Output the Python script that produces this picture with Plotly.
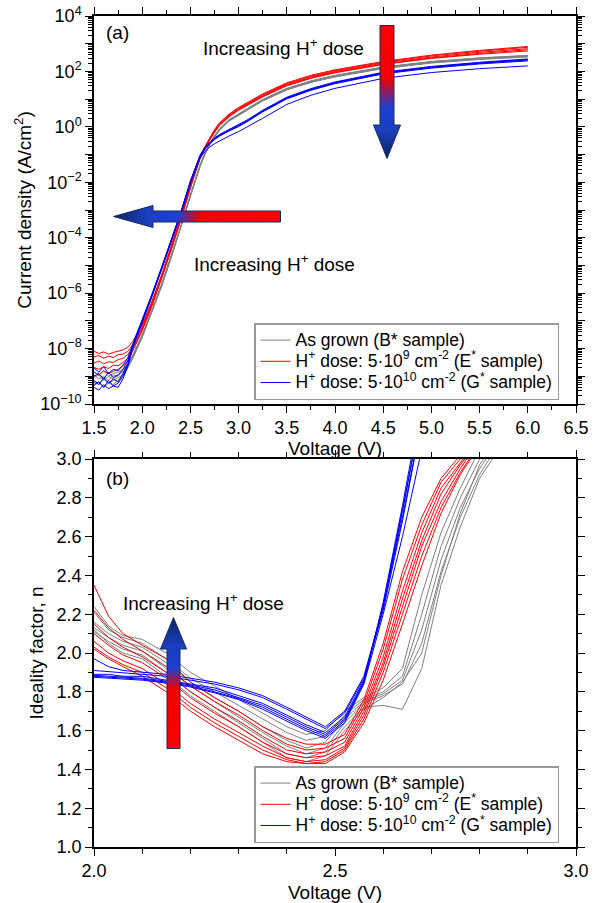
import base64
import plotly.graph_objects as go

# ---------------- data: panel (a) J-V (log10 of current density, A/cm^2) ----------------
V_TOP = [1.50, 1.55, 1.60, 1.65, 1.70, 1.75, 1.80, 1.85, 1.90, 2.00, 2.10, 2.20, 2.30, 2.40,
         2.50, 2.55, 2.60, 2.65, 2.70, 2.75, 2.80, 2.90, 3.00, 3.10, 3.25, 3.50, 3.75, 4.00,
         4.50, 5.00, 5.50, 6.00]

LOGJ_GRAY = [
    [-8.85, -8.95, -8.80, -9.00, -8.90, -8.85, -8.75, -8.55, -8.25, -7.50, -6.62, -5.68, -4.65, -3.60,
     -2.45, -1.90, -1.38, -0.95, -0.60, -0.32, -0.08, 0.26, 0.48, 0.68, 0.99, 1.39, 1.66, 1.86, 2.16, 2.36, 2.49, 2.58],
    [-9.05, -8.95, -9.15, -9.00, -9.10, -8.95, -8.85, -8.60, -8.30, -7.55, -6.66, -5.72, -4.68, -3.62,
     -2.47, -1.92, -1.40, -0.97, -0.62, -0.34, -0.10, 0.24, 0.46, 0.66, 0.97, 1.37, 1.64, 1.84, 2.14, 2.34, 2.47, 2.56],
    [-9.20, -9.30, -9.10, -9.25, -9.15, -9.05, -8.95, -8.65, -8.35, -7.58, -6.70, -5.75, -4.72, -3.65,
     -2.50, -1.95, -1.42, -0.99, -0.64, -0.36, -0.12, 0.22, 0.44, 0.64, 0.95, 1.35, 1.62, 1.82, 2.12, 2.32, 2.45, 2.54],
    [-8.95, -9.10, -9.00, -9.15, -8.95, -9.00, -8.80, -8.58, -8.28, -7.52, -6.64, -5.70, -4.66, -3.61,
     -2.46, -1.91, -1.39, -0.96, -0.61, -0.33, -0.09, 0.25, 0.47, 0.67, 0.98, 1.38, 1.65, 1.85, 2.15, 2.35, 2.48, 2.57],
    [-9.35, -9.20, -9.40, -9.25, -9.30, -9.15, -9.00, -8.70, -8.38, -7.60, -6.72, -5.78, -4.74, -3.67,
     -2.52, -1.97, -1.44, -1.01, -0.66, -0.38, -0.14, 0.20, 0.42, 0.62, 0.93, 1.33, 1.60, 1.80, 2.10, 2.30, 2.43, 2.52],
]
LOGJ_RED = [
    [-8.10, -8.18, -8.12, -8.20, -8.14, -8.10, -8.05, -7.95, -7.75, -7.15, -6.30, -5.35, -4.30, -3.25,
     -2.10, -1.56, -1.08, -0.71, -0.38, -0.10, 0.14, 0.46, 0.70, 0.90, 1.19, 1.59, 1.86, 2.06, 2.36, 2.59, 2.76, 2.90],
    [-8.30, -8.25, -8.35, -8.28, -8.32, -8.22, -8.20, -8.10, -7.88, -7.22, -6.35, -5.40, -4.35, -3.28,
     -2.12, -1.58, -1.10, -0.73, -0.41, -0.13, 0.11, 0.43, 0.67, 0.87, 1.16, 1.56, 1.83, 2.03, 2.33, 2.56, 2.73, 2.87],
    [-8.52, -8.45, -8.55, -8.48, -8.50, -8.40, -8.35, -8.22, -7.98, -7.28, -6.40, -5.45, -4.40, -3.32,
     -2.15, -1.60, -1.12, -0.75, -0.43, -0.16, 0.08, 0.40, 0.64, 0.84, 1.13, 1.53, 1.80, 2.00, 2.30, 2.52, 2.69, 2.82],
    [-8.68, -8.75, -8.65, -8.72, -8.60, -8.62, -8.50, -8.35, -8.05, -7.32, -6.45, -5.48, -4.42, -3.35,
     -2.18, -1.62, -1.14, -0.77, -0.45, -0.18, 0.06, 0.38, 0.62, 0.81, 1.10, 1.50, 1.77, 1.97, 2.27, 2.49, 2.65, 2.78],
    [-8.85, -8.95, -8.80, -8.90, -8.82, -8.75, -8.62, -8.45, -8.10, -7.36, -6.48, -5.50, -4.45, -3.38,
     -2.20, -1.64, -1.16, -0.79, -0.47, -0.20, 0.04, 0.36, 0.60, 0.79, 1.08, 1.48, 1.75, 1.95, 2.25, 2.47, 2.62, 2.74],
]
LOGJ_BLUE = [
    [-8.70, -8.85, -8.65, -8.90, -8.75, -8.80, -8.60, -8.35, -7.85, -6.98, -6.05, -5.08, -4.08, -3.08,
     -1.95, -1.45, -1.02, -0.74, -0.55, -0.40, -0.28, -0.09, 0.07, 0.27, 0.60, 1.07, 1.38, 1.62, 1.97, 2.18, 2.33, 2.45],
    [-9.00, -8.90, -9.10, -8.85, -9.05, -8.95, -8.75, -8.45, -7.90, -7.00, -6.08, -5.10, -4.10, -3.10,
     -1.97, -1.47, -1.04, -0.76, -0.57, -0.42, -0.30, -0.11, 0.05, 0.25, 0.58, 1.05, 1.36, 1.60, 1.95, 2.16, 2.31, 2.43],
    [-9.15, -9.30, -9.05, -9.25, -9.10, -9.20, -8.90, -8.55, -7.95, -7.03, -6.10, -5.12, -4.12, -3.12,
     -1.99, -1.49, -1.06, -0.78, -0.59, -0.44, -0.32, -0.13, 0.03, 0.23, 0.56, 1.03, 1.34, 1.58, 1.93, 2.14, 2.29, 2.41],
    [-9.30, -9.20, -9.40, -9.15, -9.35, -9.25, -9.00, -8.60, -7.98, -7.05, -6.12, -5.14, -4.14, -3.14,
     -2.01, -1.51, -1.08, -0.80, -0.61, -0.46, -0.34, -0.15, 0.01, 0.21, 0.54, 1.01, 1.32, 1.56, 1.91, 2.12, 2.27, 2.38],
    [-9.40, -9.50, -9.30, -9.45, -9.35, -9.40, -9.10, -8.65, -8.00, -7.08, -6.15, -5.16, -4.16, -3.16,
     -2.03, -1.54, -1.13, -0.89, -0.73, -0.61, -0.51, -0.33, -0.17, 0.01, 0.31, 0.81, 1.14, 1.39, 1.75, 1.96, 2.10, 2.20],
]

# ---------------- data: panel (b) ideality factor ----------------
V_BOT = [2.00, 2.03, 2.06, 2.10, 2.15, 2.20, 2.25, 2.30, 2.35, 2.40, 2.44,
         2.48, 2.52, 2.56, 2.60, 2.64, 2.68, 2.72, 2.76, 2.80, 2.84]

N_GRAY = [
    [2.24, 2.14, 2.09, 2.07, 2.00, 1.90, 1.83, 1.76, 1.69, 1.62, 1.58, 1.60, 1.70, 1.77, 1.82, 1.92, 2.30, 2.62, 2.85, 3.05, 3.20],
    [2.21, 2.12, 2.08, 2.05, 1.97, 1.87, 1.80, 1.73, 1.66, 1.59, 1.55, 1.57, 1.68, 1.76, 1.80, 1.88, 2.20, 2.55, 2.80, 3.00, 3.15],
    [2.16, 2.10, 2.06, 2.03, 1.95, 1.85, 1.77, 1.70, 1.62, 1.55, 1.51, 1.54, 1.66, 1.75, 1.79, 1.86, 2.12, 2.48, 2.75, 2.95, 3.10],
    [2.13, 2.08, 2.04, 2.01, 1.92, 1.83, 1.75, 1.67, 1.59, 1.52, 1.48, 1.51, 1.64, 1.74, 1.78, 1.84, 2.05, 2.42, 2.70, 2.92, 3.08],
    [2.11, 2.06, 2.02, 1.99, 1.90, 1.80, 1.72, 1.64, 1.56, 1.48, 1.46, 1.49, 1.62, 1.72, 1.73, 1.71, 1.92, 2.35, 2.65, 2.90, 3.05],
    [2.12, 2.05, 2.00, 1.97, 1.88, 1.78, 1.70, 1.62, 1.54, 1.46, 1.44, 1.47, 1.60, 1.71, 1.77, 1.85, 2.00, 2.40, 2.72, 2.97, 3.12],
]
N_RED = [
    [2.35, 2.19, 2.10, 2.04, 1.97, 1.85, 1.77, 1.70, 1.62, 1.56, 1.53, 1.53, 1.58, 1.76, 2.05, 2.42, 2.70, 2.90, 3.02, 3.15, 3.30],
    [2.22, 2.13, 2.07, 2.01, 1.93, 1.83, 1.75, 1.68, 1.60, 1.53, 1.50, 1.51, 1.56, 1.74, 2.02, 2.38, 2.66, 2.88, 3.00, 3.15, 3.30],
    [2.15, 2.08, 2.03, 1.98, 1.90, 1.80, 1.72, 1.65, 1.57, 1.50, 1.48, 1.49, 1.54, 1.72, 1.98, 2.32, 2.62, 2.85, 2.98, 3.12, 3.25],
    [2.10, 2.04, 1.99, 1.95, 1.87, 1.77, 1.69, 1.62, 1.54, 1.48, 1.46, 1.47, 1.52, 1.70, 1.95, 2.28, 2.58, 2.82, 2.97, 3.10, 3.25],
    [2.06, 2.00, 1.96, 1.92, 1.84, 1.74, 1.66, 1.59, 1.52, 1.46, 1.44, 1.45, 1.51, 1.68, 1.93, 2.24, 2.55, 2.78, 2.95, 3.10, 3.25],
    [2.03, 1.98, 1.94, 1.90, 1.82, 1.72, 1.64, 1.57, 1.50, 1.45, 1.43, 1.44, 1.50, 1.66, 1.90, 2.20, 2.50, 2.75, 2.93, 3.08, 3.20],
    [2.02, 1.97, 1.93, 1.88, 1.80, 1.70, 1.62, 1.55, 1.48, 1.44, 1.43, 1.43, 1.49, 1.64, 1.86, 2.15, 2.45, 2.72, 2.92, 3.07, 3.20],
]
N_BLUE = [
    [1.97, 1.93, 1.91, 1.90, 1.89, 1.87, 1.85, 1.82, 1.78, 1.72, 1.67, 1.62, 1.70, 1.88, 2.24, 2.70, 3.20, 3.50, 3.80, 4.00, 4.20],
    [1.91, 1.905, 1.90, 1.89, 1.88, 1.86, 1.84, 1.81, 1.77, 1.71, 1.66, 1.61, 1.69, 1.87, 2.22, 2.68, 3.20, 3.50, 3.80, 4.00, 4.20],
    [1.89, 1.89, 1.88, 1.88, 1.86, 1.84, 1.82, 1.78, 1.74, 1.68, 1.63, 1.59, 1.67, 1.86, 2.25, 2.74, 3.25, 3.50, 3.80, 4.00, 4.20],
    [1.885, 1.88, 1.875, 1.87, 1.855, 1.835, 1.81, 1.77, 1.73, 1.67, 1.62, 1.58, 1.66, 1.85, 2.24, 2.73, 3.25, 3.50, 3.80, 4.00, 4.20],
    [1.88, 1.875, 1.87, 1.865, 1.85, 1.83, 1.80, 1.765, 1.72, 1.66, 1.61, 1.57, 1.65, 1.85, 2.26, 2.76, 3.30, 3.50, 3.80, 4.00, 4.20],
    [1.875, 1.87, 1.865, 1.86, 1.845, 1.825, 1.795, 1.76, 1.71, 1.65, 1.60, 1.56, 1.64, 1.84, 2.20, 2.60, 3.05, 3.40, 3.80, 4.00, 4.20],
]

LEGEND_NAMES = [
    "As grown (B* sample)",
    "H<sup>+</sup> dose: 5·10<sup>9</sup> cm<sup>-2</sup> (E<sup>*</sup> sample)",
    "H<sup>+</sup> dose: 5·10<sup>10</sup> cm<sup>-2</sup> (G<sup>*</sup> sample)",
]
COLORS = ["#808080", "#ff0000", "#0000ff"]

Y_DECADES = list(range(-10, 5))

# ---------------- figure ----------------
FONT = "Liberation Sans, Arial, sans-serif"
W, H = 603, 903
ML, MR, MT, MB = 94, 27, 16, 56
PW, PH = W - ML - MR, H - MT - MB


def px(xp, yp):
    return (xp - ML) / PW, (H - MB - yp) / PH


def legend_label(name):
    return f'<span style="font-size:17.5px">{name}</span>'


fig = go.Figure()

groups_top = [LOGJ_GRAY, LOGJ_RED, LOGJ_BLUE]
for gi, curves in enumerate(groups_top):
    for ci, row in enumerate(curves):
        fig.add_trace(go.Scatter(
            x=V_TOP, y=[10 ** v for v in row], mode="lines",
            line=dict(color=COLORS[gi], width=1),
            name=legend_label(LEGEND_NAMES[gi]), legendgroup=f"a{gi}", showlegend=(ci == 0),
            legend="legend", xaxis="x", yaxis="y", hoverinfo="skip"))

groups_bot = [N_GRAY, N_RED, N_BLUE]
for gi, curves in enumerate(groups_bot):
    for ci, row in enumerate(curves):
        fig.add_trace(go.Scatter(
            x=V_BOT, y=row, mode="lines",
            line=dict(color=COLORS[gi], width=1),
            name=legend_label(LEGEND_NAMES[gi]), legendgroup=f"b{gi}", showlegend=(ci == 0),
            legend="legend2", xaxis="x2", yaxis="y2", hoverinfo="skip"))

axis_common = dict(showline=True, linecolor="black", linewidth=1.5, mirror="ticks",
                   ticks="outside", tickcolor="black", showgrid=False, zeroline=False,
                   automargin=False, tickfont=dict(size=18, color="black", family=FONT))

bot_top = (H - MB - 459) / PH
top_bot = (H - MB - 404) / PH

major_vals = [10.0 ** k for k in Y_DECADES]
major_text = [(f"10<sup>{k}</sup>".replace("-", "−") if k % 2 == 0 else "") for k in Y_DECADES]
minor_vals = [m * 10.0 ** k for k in Y_DECADES[:-1] for m in range(2, 10)]

legend_common = dict(xanchor="right", yanchor="bottom", bgcolor="white", bordercolor="#999999",
                     borderwidth=1.5, font=dict(size=14, family=FONT), tracegroupgap=0, itemwidth=30)

fig.update_layout(
    width=W, height=H, autosize=False, margin=dict(l=ML, r=MR, t=MT, b=MB, autoexpand=False),
    paper_bgcolor="white", plot_bgcolor="white",
    font=dict(family=FONT, size=18, color="black"),
    xaxis=dict(domain=[0, 1], anchor="y", range=[1.5, 6.5], tickmode="linear", tick0=1.5, dtick=0.5,
               tickformat=".1f", ticklen=7, tickwidth=1.2,
               minor=dict(ticks="outside", dtick=0.25, tick0=1.5, ticklen=4, tickcolor="black"),
               title=dict(text="Voltage (V)", font=dict(size=19), standoff=4), **axis_common),
    yaxis=dict(domain=[top_bot, 1.0], anchor="x", type="log", range=[-10, 4],
               tickmode="array", tickvals=major_vals, ticktext=major_text, ticklen=7, tickwidth=1.2,
               minor=dict(ticks="outside", tickmode="array", tickvals=minor_vals, ticklen=4,
                          tickcolor="black"),
               title=dict(text="Current density (A/cm<sup>2</sup>)", font=dict(size=19), standoff=4),
               **axis_common),
    xaxis2=dict(domain=[0, 1], anchor="y2", range=[2.0, 3.0], tickmode="array",
                tickvals=[2.0, 2.5, 3.0], ticktext=["2.0", "2.5", "3.0"], ticklen=7, tickwidth=1.2,
                minor=dict(ticks="outside", dtick=0.1, tick0=2.0, ticklen=5, tickcolor="black"),
                title=dict(text="Voltage (V)", font=dict(size=19), standoff=8), **axis_common),
    yaxis2=dict(domain=[0, bot_top], anchor="x2", range=[1.0, 3.0], tickmode="linear", tick0=1.0,
                dtick=0.2, tickformat=".1f", ticklen=7, tickwidth=1.2,
                minor=dict(ticks="outside", dtick=0.1, tick0=1.0, ticklen=4, tickcolor="black"),
                title=dict(text="Ideality factor, n", font=dict(size=19), standoff=8), **axis_common),
    legend=dict(x=px(559, 0)[0], y=px(0, 400)[1], **legend_common),
    legend2=dict(x=px(559, 0)[0], y=px(0, 843)[1], **legend_common),
    showlegend=True,
)

# ---------------- annotations ----------------
def label(text, xp, yp, size=19):
    x, y = px(xp, yp)
    fig.add_annotation(text=text, x=x, y=y, xref="paper", yref="paper", xanchor="left",
                       yanchor="middle", showarrow=False, font=dict(size=size, family=FONT, color="black"))


label("(a)", 104, 32)
label("(b)", 104, 478)
label("Increasing H<sup>+</sup> dose", 201, 47)
label("Increasing H<sup>+</sup> dose", 192, 263)
label("Increasing H<sup>+</sup> dose", 121, 602)


def svg_uri(svg):
    return "data:image/svg+xml;base64," + base64.b64encode(svg.encode()).decode()


STOPS = ('<stop offset="0" stop-color="#ff0000"/><stop offset="{a}" stop-color="#f20000"/>'
         '<stop offset="{b}" stop-color="#1a40d2"/><stop offset="{c}" stop-color="#1a3fc0"/>'
         '<stop offset="1" stop-color="#0c2460"/>')

down_svg = ('<svg xmlns="http://www.w3.org/2000/svg" width="28" height="134" viewBox="0 0 28 134" '
            'preserveAspectRatio="none"><defs><linearGradient id="g" x1="0" y1="0" x2="0" y2="1">'
            + STOPS.format(a=0.40, b=0.62, c=0.78) + '</linearGradient></defs>'
            '<polygon points="7,0.5 21,0.5 21,100 27.5,100 14,133.5 0.5,100 7,100" fill="url(#g)" '
            'stroke="#1b2a5e" stroke-width="1"/></svg>')

left_svg = ('<svg xmlns="http://www.w3.org/2000/svg" width="168" height="23" viewBox="0 0 168 23" '
            'preserveAspectRatio="none"><defs><linearGradient id="g" x1="1" y1="0" x2="0" y2="0">'
            + STOPS.format(a=0.48, b=0.62, c=0.80) + '</linearGradient></defs>'
            '<polygon points="167.5,6 167.5,17 40,17 40,22.5 0.5,11.5 40,0.5 40,6" fill="url(#g)" '
            'stroke="#1b2a5e" stroke-width="1"/></svg>')

up_svg = ('<svg xmlns="http://www.w3.org/2000/svg" width="27" height="132" viewBox="0 0 27 132" '
          'preserveAspectRatio="none"><defs><linearGradient id="g" x1="0" y1="1" x2="0" y2="0">'
          + STOPS.format(a=0.45, b=0.62, c=0.78) + '</linearGradient></defs>'
          '<polygon points="7,131.5 20,131.5 20,32 26.5,32 13.5,0.5 0.5,32 7,32" fill="url(#g)" '
          'stroke="#1b2a5e" stroke-width="1"/></svg>')

for svg, (xp, yp, w, h) in [(down_svg, (373, 25, 28, 134)), (left_svg, (113, 205, 168, 23)),
                            (up_svg, (160, 617, 27, 132))]:
    x, y = px(xp, yp)
    fig.add_layout_image(source=svg_uri(svg), xref="paper", yref="paper", x=x, y=y,
                         sizex=w / PW, sizey=h / PH, xanchor="left", yanchor="top",
                         sizing="stretch", layer="above")

fig.write_html("out.html", config={"displayModeBar": False},
               post_script="document.body.style.margin='0';document.body.style.overflow='hidden';")
